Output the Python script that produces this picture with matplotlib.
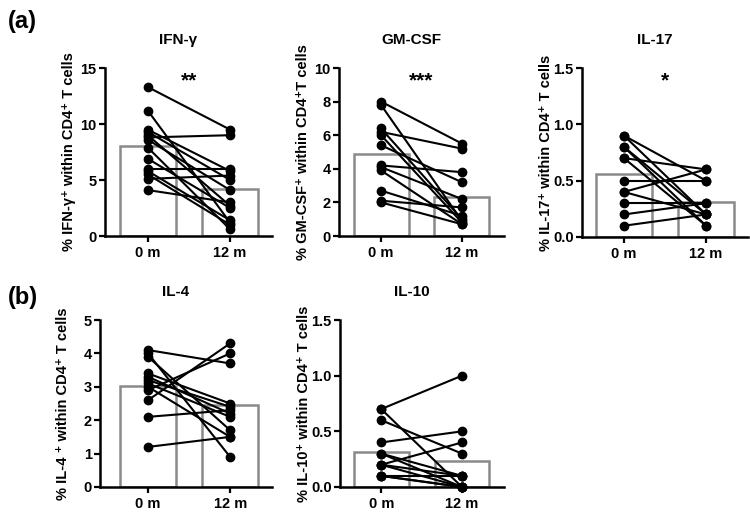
import numpy as np
import matplotlib
matplotlib.use("Agg")
import matplotlib.pyplot as plt

plt.rcParams['font.family'] = ['Liberation Sans', 'DejaVu Sans']
plt.rcParams['font.weight'] = 'bold'

# time points
timepoints = ['0 m', '12 m']

# paired values per subject (0 m, 12 m)
ifng_0 = [13.3, 11.2, 9.5, 9.3, 9.0, 8.8, 8.6, 7.9, 6.9, 6.0, 5.8, 5.5, 5.1, 4.1]
ifng_12 = [9.5, 1.2, 5.8, 5.0, 2.7, 9.0, 4.1, 0.6, 2.5, 6.0, 1.4, 1.0, 5.4, 3.0]
ifng_mean = [8.0, 4.2]

gmcsf_0 = [8.0, 7.8, 6.4, 6.2, 6.0, 5.4, 4.2, 4.1, 3.9, 2.7, 2.1, 2.0]
gmcsf_12 = [5.5, 0.9, 1.0, 5.2, 0.8, 3.2, 3.8, 2.2, 0.7, 1.2, 1.7, 0.7]
gmcsf_mean = [4.9, 2.3]

il17_0 = [0.9, 0.9, 0.8, 0.8, 0.7, 0.7, 0.5, 0.4, 0.4, 0.3, 0.2, 0.1]
il17_12 = [0.5, 0.2, 0.1, 0.2, 0.6, 0.1, 0.5, 0.6, 0.2, 0.3, 0.3, 0.2]
il17_mean = [0.56, 0.31]

il4_0 = [4.1, 4.0, 3.9, 3.4, 3.3, 3.2, 3.1, 3.0, 2.9, 2.6, 2.1, 1.2]
il4_12 = [3.7, 0.9, 1.7, 2.5, 2.2, 2.4, 2.1, 1.5, 4.0, 4.3, 2.3, 1.5]
il4_mean = [3.02, 2.45]

il10_0 = [0.7, 0.7, 0.6, 0.4, 0.3, 0.3, 0.2, 0.2, 0.2, 0.1, 0.1, 0.1]
il10_12 = [1.0, 0.0, 0.3, 0.5, 0.1, 0.0, 0.4, 0.1, 0.0, 0.1, 0.0, 0.0]
il10_mean = [0.31, 0.23]

panels = [
    # title, ylabel, before, after, means, ymax, ystep, stars
    ('IFN-γ', '% IFN-γ⁺ within CD4⁺ T cells', ifng_0, ifng_12, ifng_mean, 15, 5, '**'),
    ('GM-CSF', '% GM-CSF⁺ within CD4⁺T cells', gmcsf_0, gmcsf_12, gmcsf_mean, 10, 2, '***'),
    ('IL-17', '% IL-17⁺ within CD4⁺ T cells', il17_0, il17_12, il17_mean, 1.5, 0.5, '*'),
    ('IL-4', '% IL-4 ⁺ within CD4⁺ T cells', il4_0, il4_12, il4_mean, 5, 1, ''),
    ('IL-10', '% IL-10⁺ within CD4⁺ T cells', il10_0, il10_12, il10_mean, 1.5, 0.5, ''),
]

# axes placement in pixels: left, right, top, bottom
boxes = [(105, 272, 68, 236), (339, 504, 68, 236), (582, 748, 68, 237),
         (100, 272, 320, 487), (340, 504, 320, 487)]
xlims = [(-0.52, 1.51), (-0.52, 1.52), (-0.51, 1.51), (-0.585, 1.51), (-0.51, 1.52)]

W, H = 750, 513
fig = plt.figure(figsize=(7.5, 5.13), dpi=100)

for (title, ylab, a, b, means, ymax, ystep, stars), (l, r, t, bt), xl in zip(panels, boxes, xlims):
    ax = fig.add_axes([l / W, (H - bt) / H, (r - l) / W, (bt - t) / H])
    ax.bar([0, 1], means, width=0.68, facecolor='white', edgecolor='#8a8a8a',
           linewidth=1.8, zorder=1)
    for v0, v1 in zip(a, b):
        ax.plot([0, 1], [v0, v1], '-o', color='black', lw=1.5, ms=6,
                zorder=3, clip_on=False)
    ax.set_xlim(*xl)
    ax.set_ylim(0, ymax)
    ax.set_yticks(np.arange(0, ymax + ystep / 2, ystep))
    if ymax < 2:
        ax.set_yticklabels(['%.1f' % v for v in np.arange(0, ymax + ystep / 2, ystep)])
    ax.set_xticks([0, 1])
    ax.set_xticklabels(timepoints)
    for s in ['top', 'right']:
        ax.spines[s].set_visible(False)
    for s in ['left', 'bottom']:
        ax.spines[s].set_linewidth(1.8)
    ax.tick_params(width=1.6, length=4, labelsize=10.5)
    ax.tick_params(axis='x', pad=3)
    ax.tick_params(axis='y', pad=2)
    for lab in ax.get_xticklabels() + ax.get_yticklabels():
        lab.set_fontweight('bold')
    ax.set_title(title, x=0.44, pad=17, fontsize=11, fontweight='bold')
    ax.set_ylabel(ylab, fontsize=10.5, fontweight='bold')
    ax.yaxis.set_label_coords(-0.175, 0.5)
    if stars:
        ax.text(0.5, ymax * 0.925, stars, ha='center', va='center', fontsize=15,
                fontweight='bold')

fig.text(0.010, 0.958, '(a)', fontsize=17, fontweight='bold', va='center')
fig.text(0.010, 0.420, '(b)', fontsize=17, fontweight='bold', va='center')

fig.savefig('out.png', dpi=100)
